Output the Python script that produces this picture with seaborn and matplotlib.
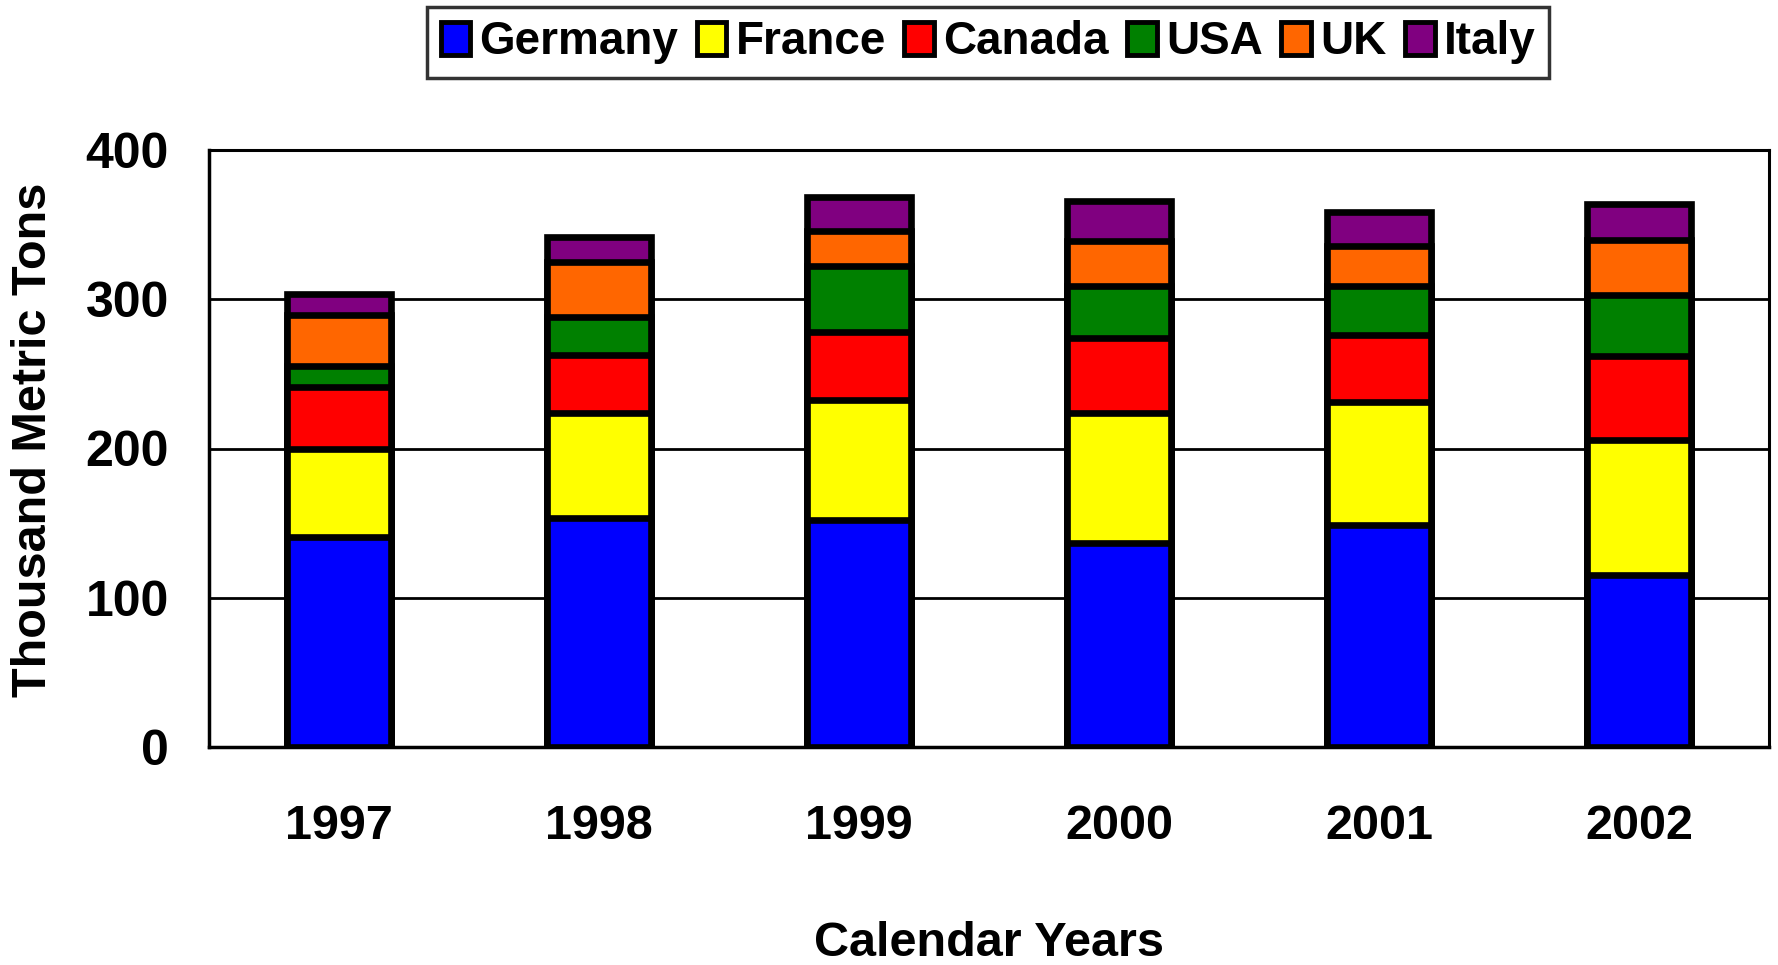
import pandas as pd
import numpy as np
import matplotlib
matplotlib.use("Agg")
import matplotlib.pyplot as plt
import seaborn as sns
from matplotlib.patches import Patch

# ==========================================
# DATA (thousand metric tons)
# ==========================================

years = ['1997', '1998', '1999', '2000', '2001', '2002']
countries = ['Germany', 'France', 'Canada', 'USA', 'UK', 'Italy']

germany = [140.5, 153.5, 152, 136.5, 149, 115]
france = [59.5, 70.5, 80.5, 87.5, 82, 90.7]
canada = [41, 38.5, 45.5, 50, 45, 56.3]
usa = [14.5, 25.5, 44, 35, 33, 41]
uk = [34, 37, 24, 30, 27, 37]
italy = [14, 16.7, 22.7, 27, 22.4, 23.7]

colors = ['#0000FF', '#FFFF00', '#FF0000', '#008000', '#FF6600', '#800080']

df = pd.DataFrame({
    'Year': years,
    'Germany': germany,
    'France': france,
    'Canada': canada,
    'USA': usa,
    'UK': uk,
    'Italy': italy
})

# cumulative tops for stacking
cum = df[countries].cumsum(axis=1)
cum['Year'] = df['Year']

# ==========================================
# STYLE
# ==========================================

sns.set_style("white")
plt.rcParams['font.family'] = ['Liberation Sans', 'DejaVu Sans']
plt.rcParams['font.weight'] = 'bold'
plt.rcParams['text.color'] = 'black'
plt.rcParams['xtick.color'] = 'black'
plt.rcParams['ytick.color'] = 'black'

fig = plt.figure(figsize=(17.78, 9.65), dpi=100)
ax = fig.add_axes([209 / 1778, 1 - 747 / 965, 1560 / 1778, 597 / 965])

# draw from the tallest layer down so each segment covers the one above
for name, col in reversed(list(zip(countries, colors))):
    sns.barplot(
        data=cum,
        x='Year',
        y=name,
        color=col,
        saturation=1,
        width=0.4,
        edgecolor='black',
        linewidth=4.8,
        errorbar=None,
        ax=ax
    )

ax.set_ylim(0, 400)
ax.set_xlim(-0.5, 5.5)
ax.set_yticks([0, 100, 200, 300, 400])
ax.yaxis.grid(True, color='black', linewidth=2)
ax.set_axisbelow(True)

# category boundary ticks (minor) and centred labels (major)
ax.set_xticks(np.arange(-0.5, 6, 1), minor=True)
ax.tick_params(axis='x', which='minor', length=13, width=2, color='black', direction='out')
ax.tick_params(axis='x', which='major', length=0, pad=41, labelsize=35, labelcolor='black')
ax.tick_params(axis='y', length=12, width=2, color='black', direction='out', pad=17,
               labelsize=36, labelcolor='black')
ax.set_xlabel('')
ax.set_ylabel('')

for side in ['left', 'bottom']:
    ax.spines[side].set_linewidth(2.5)
for side in ['top', 'right']:
    ax.spines[side].set_linewidth(2.2)
for side in ax.spines:
    ax.spines[side].set_color('black')

for lbl in ax.get_xticklabels() + ax.get_yticklabels():
    lbl.set_fontweight('bold')

fig.text(989 / 1778, 1 - 943 / 965, 'Calendar Years', ha='center', va='center',
         fontsize=35, fontweight='bold', color='black')
fig.text(34 / 1778, 1 - 440 / 965, 'Thousand Metric Tons', ha='center', va='center',
         rotation=90, fontsize=35, fontweight='bold', color='black')

# ==========================================
# LEGEND
# ==========================================

handles = [Patch(facecolor=c, edgecolor='black', linewidth=3.5) for c in colors]
leg = fig.legend(
    handles,
    countries,
    loc='center',
    bbox_to_anchor=(988 / 1778, 1 - 42.5 / 965),
    ncol=6,
    fontsize=33,
    frameon=True,
    fancybox=False,
    handlelength=0.65,
    handleheight=0.7,
    handletextpad=0.2,
    columnspacing=0.4,
    borderpad=0.3,
    borderaxespad=0
)
leg.get_frame().set_edgecolor('black')
leg.get_frame().set_linewidth(2.5)
for t in leg.get_texts():
    t.set_fontweight('bold')
    t.set_color('black')

fig.savefig('out.png', dpi=100)
